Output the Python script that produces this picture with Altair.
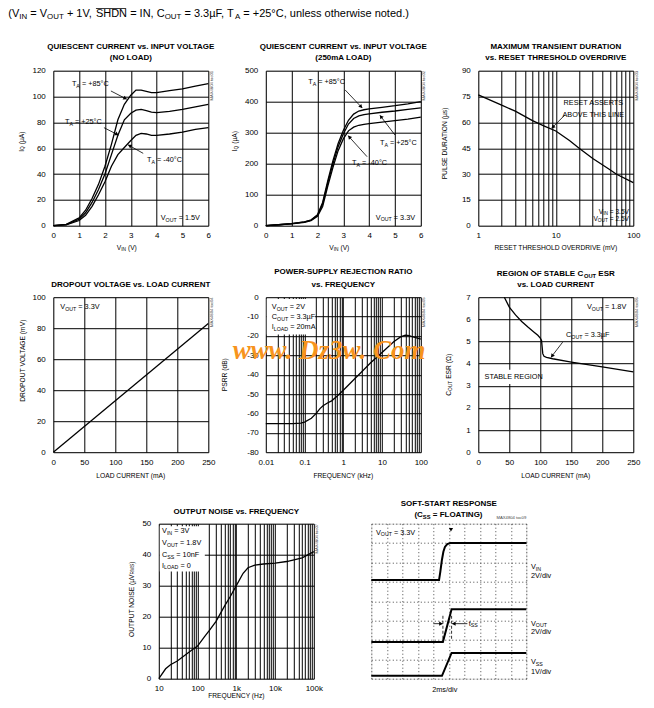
import math, re, json
import altair as alt
import pandas as pd

# ---------------- data ----------------
# Quiescent current vs input voltage (no load)
Q1_VIN = [0, 0.5, 1.0, 1.25, 1.5, 1.75, 2.0, 2.25, 2.5, 2.75, 3.0, 3.2, 3.4, 3.6, 3.8, 4.0, 4.5, 5.0, 5.5, 6.0]
Q1_P85 = [0, 1, 6, 12, 21, 32, 46, 63, 82, 94, 101, 105, 105, 104, 103, 103, 104.5, 106, 108, 110]
Q1_P25 = [0, 0.8, 5, 10, 18, 28, 40, 55, 70, 82, 87, 89.5, 90, 89, 88, 87.5, 88.5, 90, 92, 94]
Q1_M40 = [0, 0.6, 4, 8, 15, 24, 34, 46, 55, 60.5, 66, 70, 71.5, 71, 70, 70, 71, 72.5, 74.5, 76]
# Quiescent current vs input voltage (250mA load)
Q2_VIN = [0, 0.5, 1.0, 1.5, 1.75, 2.0, 2.2, 2.4, 2.6, 2.8, 3.0, 3.2, 3.4, 3.6, 3.8, 4.0, 4.5, 5.0, 5.5, 6.0]
Q2_P85 = [0, 3, 7, 12, 18, 35, 75, 145, 210, 265, 307, 340, 360, 370, 374, 377, 382, 387, 393, 400]
Q2_P25 = [0, 3, 7, 12, 18, 33, 70, 138, 200, 255, 296, 328, 346, 354, 358, 361, 366, 370, 375, 380]
Q2_M40 = [0, 3, 6, 11, 16, 30, 62, 128, 188, 242, 280, 306, 318, 324, 327, 329, 334, 339, 344, 350]
# Maximum transient duration vs reset threshold overdrive
TR_MV = [1, 2, 3, 5, 7, 10, 15, 20, 30, 50, 60, 100]
TR_US = [76, 70, 66.5, 61, 58, 55, 49.5, 45, 39, 32.5, 30, 25]
# Dropout voltage vs load current
DO_MA = [0, 250]
DO_MV = [0, 83]
# PSRR vs frequency
PS_KHZ = [0.01, 0.02, 0.05, 0.08, 0.1, 0.15, 0.2, 0.25, 0.3, 0.4, 0.5, 0.7, 1, 2, 3, 5, 10, 20, 30, 40, 50, 70, 100]
PS_DB = [-65.3, -65.3, -65.3, -65, -64.5, -62.5, -60, -57.5, -56, -54.5, -53.5, -51, -48, -42, -38.5, -34, -28.5, -23, -20.5, -19.6, -19.8, -20.8, -21.7]
# Region of stable COUT ESR
ESR_MA = [0, 42, 50, 60, 70, 80, 90, 96, 100, 102, 103, 104, 106, 110, 120, 150, 200, 250]
ESR_OHM = [7, 7, 6.55, 6.2, 5.9, 5.65, 5.42, 5.28, 5.15, 5.05, 4.75, 4.45, 4.33, 4.28, 4.22, 4.07, 3.85, 3.63]
# Output noise vs frequency
NZ_HZ = [10, 15, 20, 30, 50, 70, 100, 150, 200, 300, 500, 700, 1000, 1500, 2000, 3000, 5000, 10000, 20000, 50000, 100000]
NZ_UV = [0, 3.2, 4.5, 5.7, 7.8, 9.2, 10.5, 13.5, 15.5, 18.5, 23.5, 26.5, 30, 34, 35.8, 36.6, 37, 37.3, 37.8, 39, 41]
# Soft-start scope traces (divisions)
SS_T_VIN = [0, 4.37, 4.45, 4.55, 4.65, 4.75, 4.9, 5.1, 10]
SS_VIN = [5.09, 5.09, 5.5, 6.1, 6.55, 6.8, 6.95, 7.0, 7.0]
SS_T_VOUT = [0, 4.62, 5.18, 10]
SS_VOUT = [1.9, 1.9, 3.59, 3.59]
SS_T_VSS = [0, 4.56, 5.18, 10]
SS_VSS = [0.15, 0.15, 1.33, 1.33]

# tick values / labels
Q1_XT = [0, 1, 2, 3, 4, 5, 6]; Q1_YT = [0, 20, 40, 60, 80, 100, 120]
Q2_YT = [0, 100, 200, 300, 400, 500]
TR_GRID = [m * 10 ** e for e in (0, 1) for m in range(1, 10)] + [100]
TR_LV = [1, 10, 100]; TR_LB = ["1", "10", "100"]
TR_YT = [0, 15, 30, 45, 60, 75, 90]
MA_XT = [0, 50, 100, 150, 200, 250]; DO_YT = [0, 20, 40, 60, 80, 100]
PS_GRID = [round(m * 10.0 ** e, 6) for e in (-2, -1, 0, 1) for m in range(1, 10)] + [100.0]
PS_LV = [0.01, 0.1, 1, 10, 100]; PS_LB = ["0.01", "0.1", "1", "10", "100"]
PS_YT = [-80, -70, -60, -50, -40, -30, -20, -10, 0]
ESR_YT = [0, 1, 2, 3, 4, 5, 6, 7]
NZ_GRID = [m * 10 ** e for e in (1, 2, 3, 4) for m in range(1, 10)] + [100000]
NZ_LV = [10, 100, 1000, 10000, 100000]; NZ_LB = ["10", "100", "1k", "10k", "100k"]
NZ_YT = [0, 10, 20, 30, 40, 50]
SS_XT = list(range(0, 11)); SS_YT = list(range(0, 9))

# ---------------- styling helpers ----------------
W = H = 155
FN = "Liberation Sans, Arial, sans-serif"
FR = "Liberation Sans, Arial, sans-serif"
FS = "Liberation Serif, Times New Roman, serif"
STYLE = {'n': dict(font=FN), 'b': dict(font=FN, fontWeight='bold'), 'r': dict(font=FR),
         'w': dict(font=FS, fontWeight='bold', fontStyle='italic')}
T_TITLE = 8.0     # panel titles
T_ANN = 7.3       # annotations
T_AX = 6.7        # axis titles
T_TICK = 8.0      # tick labels

AW = dict(zip(" !()+,-./:=°µΩ", [278, 278, 333, 333, 584, 278, 333, 278, 278, 278, 584, 400, 556, 768]))
AW.update({d: 556 for d in "0123456789"})
AW.update(dict(zip("ABCDEFGHIJKLMNOPQRSTUVWXYZ", [667, 667, 722, 722, 667, 611, 778, 722, 278, 500, 667, 556, 833, 722, 778, 667, 778, 722, 667, 611, 722, 667, 944, 667, 667, 611])))
AW.update(dict(zip("abcdefghijklmnopqrstuvwxyz", [556, 556, 500, 556, 556, 278, 556, 556, 222, 222, 500, 222, 833, 556, 556, 556, 556, 333, 500, 278, 556, 500, 722, 500, 500, 500])))
AWB = dict(AW)
AWB.update(dict(zip("ABCDEFGHIJKLMNOPQRSTUVWXYZ", [722, 722, 722, 722, 667, 611, 778, 722, 278, 556, 722, 611, 833, 722, 778, 667, 778, 722, 667, 611, 722, 667, 944, 667, 667, 611])))
AWB.update(dict(zip("abcdefghijklmnopqrstuvwxyz", [556, 611, 556, 611, 556, 333, 611, 611, 278, 278, 556, 278, 889, 611, 611, 611, 611, 389, 556, 333, 611, 556, 778, 556, 556, 500])))


def tw(s, size, bold=False):
    tbl = AWB if bold else AW
    return sum(tbl.get(c, 556) for c in s) / 1000.0 * size


def parse(markup):
    segs = []
    for p in re.split(r'(_\{[^}]*\}|~\{[^}]*\})', markup):
        if not p:
            continue
        if p.startswith('_{'):
            segs.append((p[2:-1], 'sub'))
        elif p.startswith('~{'):
            segs.append((p[2:-1], 'over'))
        else:
            segs.append((p, 'n'))
    return segs


class Panel:
    def __init__(self, xd, yd, xlog=False):
        self.xd, self.yd, self.xlog = xd, yd, xlog
        self.texts, self.rules, self.drules, self.heads = [], [], [], []

    def _t(self, v):
        return math.log10(v) if self.xlog else v

    def px(self, v):
        a, b = self._t(self.xd[0]), self._t(self.xd[1])
        return (self._t(v) - a) / (b - a) * W

    def vx(self, p):
        a, b = self._t(self.xd[0]), self._t(self.xd[1])
        t = a + p / W * (b - a)
        return 10 ** t if self.xlog else t

    def py(self, v):
        return H - (v - self.yd[0]) / (self.yd[1] - self.yd[0]) * H

    def vy(self, p):
        return self.yd[0] + (H - p) / H * (self.yd[1] - self.yd[0])

    def xmid(self):
        return self.vx(W / 2)

    def ymid(self):
        return self.vy(H / 2)

    def rich(self, ax, ay, markup, size=T_ANN, align='left', angle=0, style='n', color='black', dx=0, dy=0):
        bx = self.px(ax) + dx
        by = self.py(ay) + dy
        segs = parse(markup)
        if len(segs) == 1 and segs[0][1] == 'n':
            self.texts.append(dict(x=self.vx(bx), y=self.vy(by), text=segs[0][0], size=size,
                                   angle=angle, color=color, style=style, align=align))
            return
        bold = style == 'b'
        sizes = [size * 0.72 if k == 'sub' else size for t, k in segs]
        widths = [tw(t, s, bold) for (t, k), s in zip(segs, sizes)]
        total = sum(widths)
        off = {'left': 0, 'center': -total / 2, 'right': -total}[align]
        for (t, k), s, w in zip(segs, sizes, widths):
            ts = t.lstrip(' ')
            lead = tw(' ' * (len(t) - len(ts)), s, bold)
            down = size * 0.25 if k == 'sub' else 0
            if angle == 0:
                X, Y = bx + off + lead, by + down
            else:
                X, Y = bx + down, by - off - lead
            if ts.strip():
                self.texts.append(dict(x=self.vx(X), y=self.vy(Y), text=ts.rstrip(' '), size=s,
                                       angle=angle, color=color, style=style, align='left'))
            if k == 'over' and angle == 0:
                yy = self.vy(by - size * 0.52)
                self.rules.append(dict(x=self.vx(X), y=yy, x2=self.vx(X + w * 0.97), y2=yy))
            off += w

    def arrow(self, x1, y1, x2, y2):
        self.rules.append(dict(x=x1, y=y1, x2=x2, y2=y2))
        dxp = self.px(x2) - self.px(x1)
        dyp = self.py(y2) - self.py(y1)
        L = math.hypot(dxp, dyp)
        ux, uy = dxp / L, dyp / L
        hx = self.px(x2) - ux * 2.2
        hy = self.py(y2) - uy * 2.2
        ang = math.degrees(math.atan2(ux, -uy)) % 360
        self.heads.append(dict(x=self.vx(hx), y=self.vy(hy), angle=ang))

    def titles(self, lines, offs):
        for t, o in zip(lines, offs):
            self.rich(self.xmid(), self.yd[1], t, T_TITLE, 'center', style='b', dy=o)

    def ytitle(self, t, dx, dy=0):
        self.rich(self.xd[0], self.ymid(), t, T_AX, 'center', angle=270, dx=dx, dy=dy)

    def xtitle(self, t, dy, dx=0):
        self.rich(self.xmid(), self.yd[0], t, T_AX, 'center', dx=dx, dy=dy)

    def toc(self, t):
        self.rich(self.xd[1], self.yd[1], t, 4.2, 'center', angle=270, color='#444', dx=3.5, dy=15)


def axis(values, lv=None, lb=None, pad=6, labels=True, dash=None):
    if lv is not None:
        expr = "%s[indexof(%s, datum.value)] || ''" % (json.dumps(lb), json.dumps(lv))
    else:
        expr = "'' + datum.value"
    kw = dict(values=values, grid=True, title=None, labels=labels, domain=False, ticks=False, tickSize=0,
              gridColor='black', gridWidth=1, gridOpacity=1, labelFont=FN, labelFontSize=T_TICK,
              labelColor='black', labelPadding=pad, labelFlush=False, labelOverlap=False, labelExpr=expr)
    if dash:
        kw.update(gridDash=dash, gridColor='#333333', gridWidth=0.9)
    return alt.Axis(**kw)


def series(pairs):
    rows = []
    for name, xs, ys in pairs:
        for i, (a, b) in enumerate(zip(xs, ys)):
            rows.append(dict(x=a, y=b, s=name, i=i))
    return pd.DataFrame(rows)


def build(pn, xaxis, yaxis, lines, lw=1.3, area=None, boxes=None):
    xs = alt.Scale(domain=pn.xd, type='log' if pn.xlog else 'linear', nice=False, zero=False)
    ys = alt.Scale(domain=pn.yd, nice=False, zero=False)

    def enc(**extra):
        d = dict(x=alt.X('x:Q', scale=xs, axis=xaxis), y=alt.Y('y:Q', scale=ys, axis=yaxis))
        d.update(extra)
        return d

    layers = []
    if area is not None:
        layers.append(alt.Chart(area).mark_area(fill='black', fillOpacity=0.16).encode(**enc(y2='y0:Q', order='i:Q')))
    if boxes is not None:
        layers.append(alt.Chart(boxes).mark_rect(fill='white').encode(**enc(x2='x2:Q', y2='y2:Q')))
    layers.append(alt.Chart(lines).mark_line(color='black', strokeWidth=lw).encode(**enc(detail='s:N', order='i:Q')))
    if pn.rules:
        layers.append(alt.Chart(pd.DataFrame(pn.rules)).mark_rule(color='black', strokeWidth=0.8)
                      .encode(**enc(x2='x2:Q', y2='y2:Q')))
    if pn.drules:
        layers.append(alt.Chart(pd.DataFrame(pn.drules)).mark_rule(color='black', strokeWidth=0.8, strokeDash=[3, 2])
                      .encode(**enc(x2='x2:Q', y2='y2:Q')))
    if pn.heads:
        layers.append(alt.Chart(pd.DataFrame(pn.heads)).mark_point(shape='triangle', filled=True, size=18,
                                                                   color='black', opacity=1, strokeWidth=0)
                      .encode(**enc(angle=alt.Angle('angle:Q', scale=None))))
    tdf = pd.DataFrame(pn.texts)
    for (st, al), g in tdf.groupby(['style', 'align']):
        layers.append(alt.Chart(g.drop(columns=['style', 'align'])).mark_text(align=al, baseline='middle', **STYLE[st])
                      .encode(**enc(text='text:N', size=alt.Size('size:Q', scale=None),
                                    angle=alt.Angle('angle:Q', scale=None),
                                    color=alt.Color('color:N', scale=None))))
    return alt.layer(*layers).properties(width=W, height=H)


# ---------------- panel 1 ----------------
p1 = Panel([0, 6], [0, 120])
p1.rich(0, 120, "(V_{IN} = V_{OUT} + 1V, ~{SHDN} = IN, C_{OUT} = 3.3µF, T_{A} = +25°C, unless otherwise noted.)",
        11, 'left', style='r', dx=-45, dy=-56.5)
p1.titles(["QUIESCENT CURRENT vs. INPUT VOLTAGE", "(NO LOAD)"], [-24, -12.4])
p1.ytitle("I_{Q} (µA)", -31.6, -6.5)
p1.xtitle("V_{IN} (V)", 22.6, -4)
p1.rich(0.72, 109.7, "T_{A} = +85°C")
p1.rich(0.45, 80.3, "T_{A} = +25°C")
p1.rich(3.63, 50.9, "T_{A} = -40°C")
p1.rich(5.68, 6.2, "V_{OUT} = 1.5V", align='right')
p1.arrow(2.23, 104.3, 2.84, 98.0)
p1.arrow(1.96, 75.9, 2.52, 70.2)
p1.arrow(3.48, 56, 2.90, 62.5)
p1.toc("MAX4804 toc01")
c1 = build(p1, axis(Q1_XT), axis(Q1_YT, pad=8),
           series([("p85", Q1_VIN, Q1_P85), ("p25", Q1_VIN, Q1_P25), ("m40", Q1_VIN, Q1_M40)]))

# ---------------- panel 2 ----------------
p2 = Panel([0, 6], [0, 500])
p2.titles(["QUIESCENT CURRENT vs. INPUT VOLTAGE", "(250mA LOAD)"], [-24, -12.4])
p2.ytitle("I_{Q} (µA)", -30.7, -7)
p2.xtitle("V_{IN} (V)", 22.6, -4)
p2.rich(1.64, 464.5, "T_{A} = +85°C")
p2.rich(4.42, 267, "T_{A} = +25°C")
p2.rich(3.34, 202, "T_{A} = -40°C")
p2.rich(5.78, 26, "V_{OUT} = 3.3V", align='right')
p2.arrow(3.07, 438, 3.73, 380)
p2.arrow(5.0, 292.6, 4.42, 356)
p2.arrow(3.92, 222.6, 3.19, 290)
p2.toc("MAX4804 toc02")
c2 = build(p2, axis(Q1_XT), axis(Q2_YT, pad=8),
           series([("p85", Q2_VIN, Q2_P85), ("p25", Q2_VIN, Q2_P25), ("m40", Q2_VIN, Q2_M40)]))

# ---------------- panel 3 ----------------
p3 = Panel([1, 100], [0, 90], xlog=True)
p3.titles(["MAXIMUM TRANSIENT DURATION", "vs. RESET THRESHOLD OVERDRIVE"], [-24, -12.4])
p3.ytitle("PULSE DURATION (µs)", -33.3, -4.7)
p3.xtitle("RESET THRESHOLD OVERDRIVE (mV)", 22.6)
p3.rich(30.5, 71.1, "RESET ASSERTS", align='center')
p3.rich(30.5, 64.3, "ABOVE THIS LINE", align='center')
p3.arrow(13.1, 64.3, 8.85, 56.6)
p3.rich(88, 7.9, "V_{IN} = 3.5V", 6.6, align='right')
p3.rich(88, 3.6, "V_{OUT} = 2.5V", 6.6, align='right')
p3.toc("MAX4804 toc03")
c3 = build(p3, axis(TR_GRID, TR_LV, TR_LB), axis(TR_YT, pad=8), series([("t", TR_MV, TR_US)]))

# ---------------- panel 4 ----------------
p4 = Panel([0, 250], [0, 100])
p4.titles(["DROPOUT VOLTAGE vs. LOAD CURRENT"], [-12.6])
p4.ytitle("DROPOUT VOLTAGE (mV)", -30.7, -14)
p4.xtitle("LOAD CURRENT (mA)", 23.4)
p4.rich(11.3, 93.5, "V_{OUT} = 3.3V")
p4.toc("MAX4804 toc04")
c4 = build(p4, axis(MA_XT), axis(DO_YT, pad=8), series([("d", DO_MA, DO_MV)]))

# ---------------- panel 5 ----------------
p5 = Panel([0.01, 100], [-80, 0], xlog=True)
p5.titles(["POWER-SUPPLY REJECTION RATIO", "vs. FREQUENCY"], [-25, -12.6])
p5.ytitle("PSRR (dB)", -40.7)
p5.xtitle("FREQUENCY (kHz)", 23.4)
p5.rich(0.0143, -5.2, "V_{OUT} = 2V")
p5.rich(0.0143, -10.3, "C_{OUT} = 3.3µF")
p5.rich(0.0143, -15.5, "I_{LOAD} = 20mA")
p5.rich(0.43, -27.7, "www. Dz3w. Com", 27, 'center', style='w', color='#F7941D')
p5.toc("MAX4804 toc05")
box5 = pd.DataFrame(dict(x=[0.0106], x2=[0.187], y=[-19.2], y2=[-0.9]))
c5 = build(p5, axis(PS_GRID, PS_LV, PS_LB), axis(PS_YT, pad=7.5), series([("p", PS_KHZ, PS_DB)]), boxes=box5)

# ---------------- panel 6 ----------------
p6 = Panel([0, 250], [0, 7])
p6.titles(["REGION OF STABLE C_{OUT} ESR", "vs. LOAD CURRENT"], [-23.3, -12.3])
p6.ytitle("C_{OUT} ESR (Ω)", -29)
p6.xtitle("LOAD CURRENT (mA)", 23.4)
p6.rich(238.7, 6.55, "V_{OUT} = 1.8V", align='right')
p6.rich(141.5, 5.3, "C_{OUT} = 3.3µF")
p6.arrow(136.1, 4.97, 117.4, 4.29)
p6.rich(10.2, 3.4, "STABLE REGION")
p6.toc("MAX4804 toc06")
box6 = pd.DataFrame(dict(x=[3.7], x2=[97.9], y=[3.08], y2=[3.72]))
area6 = pd.DataFrame(dict(x=ESR_MA, y=ESR_OHM, y0=[0] * len(ESR_MA), i=list(range(len(ESR_MA)))))
c6 = build(p6, axis(MA_XT), axis(ESR_YT, pad=8), series([("e", ESR_MA[1:], ESR_OHM[1:])]),
           area=area6, boxes=box6)

# ---------------- panel 7 ----------------
p7 = Panel([10, 100000], [0, 50], xlog=True)
p7.titles(["OUTPUT NOISE vs. FREQUENCY"], [-11.6])
p7.ytitle("OUTPUT NOISE (µV_{RMS})", -27.3, -2)
p7.xtitle("FREQUENCY (Hz)", 17)
p7.rich(12.1, 47.5, "V_{IN} = 3V")
p7.rich(12.1, 43.7, "V_{OUT} = 1.8V")
p7.rich(12.1, 39.9, "C_{SS} = 10nF")
p7.rich(12.1, 36.5, "I_{LOAD} = 0")
p7.toc("MAX4804 toc07")
box7 = pd.DataFrame(dict(x=[10.6], x2=[154], y=[34.6], y2=[49.2]))
c7 = build(p7, axis(NZ_GRID, NZ_LV, NZ_LB), axis(NZ_YT, pad=8), series([("n", NZ_HZ, NZ_UV)]), boxes=box7)

# ---------------- panel 8 (scope) ----------------
p8 = Panel([0, 10], [0, 8])
p8.titles(["SOFT-START RESPONSE", "(C_{SS} = FLOATING)"], [-20, -8.3])
p8.rich(0.3, 7.54, "V_{OUT} = 3.3V")
p8.rich(10.3, 5.76, "V_{IN}")
p8.rich(10.3, 5.28, "2V/div")
p8.rich(10.3, 2.84, "V_{OUT}")
p8.rich(10.3, 2.41, "2V/div")
p8.rich(10.3, 0.86, "V_{SS}")
p8.rich(10.3, 0.34, "1V/div")
p8.rich(4.74, -0.6, "2ms/div", align='center')
p8.rich(6.28, 2.84, "t_{SS}")
p8.rich(10.0, 8.27, "MAX4804 toc09", 4.2, 'right', color='#444')
p8.drules.append(dict(x=4.62, y=2.06, x2=4.62, y2=3.35))
p8.drules.append(dict(x=5.18, y=2.06, x2=5.18, y2=3.35))
p8.arrow(4.0, 2.84, 4.6, 2.84)
p8.arrow(6.2, 2.84, 5.22, 2.84)
p8.heads.append(dict(x=5.14, y=7.72, angle=180))
c8 = build(p8, axis(SS_XT, labels=False, dash=[1, 2.5]), axis(SS_YT, labels=False, dash=[1, 2.5]),
           series([("vin", SS_T_VIN, SS_VIN), ("vout", SS_T_VOUT, SS_VOUT), ("vss", SS_T_VSS, SS_VSS)]), lw=2)


def filler(w):
    return alt.Chart(pd.DataFrame({'x': [0], 'y': [0]})).mark_point(opacity=0).encode(
        x=alt.X('x:Q', axis=None), y=alt.Y('y:Q', axis=None)
    ).properties(width=w, height=H, view=alt.ViewBackground(stroke='transparent', fill='transparent'))


row1 = alt.hconcat(c1, c2, c3, spacing=57.5, bounds='flush')
row2 = alt.hconcat(c4, c5, c6, spacing=57.5, bounds='flush')
row3 = alt.hconcat(filler(47.5), c7, c8, spacing=57.5, bounds='flush')

chart = alt.vconcat(row1, row2, row3, spacing=226.5, bounds='flush').properties(
    autosize=alt.AutoSizeParams(type='none'),
    padding={'left': 45.3, 'top': 62.7, 'right': 592.7, 'bottom': 629}
).configure_view(stroke='black', strokeWidth=1, fill='white').configure(background='white')

chart.save("out.html", embed_options={"renderer": "svg", "actions": False})
